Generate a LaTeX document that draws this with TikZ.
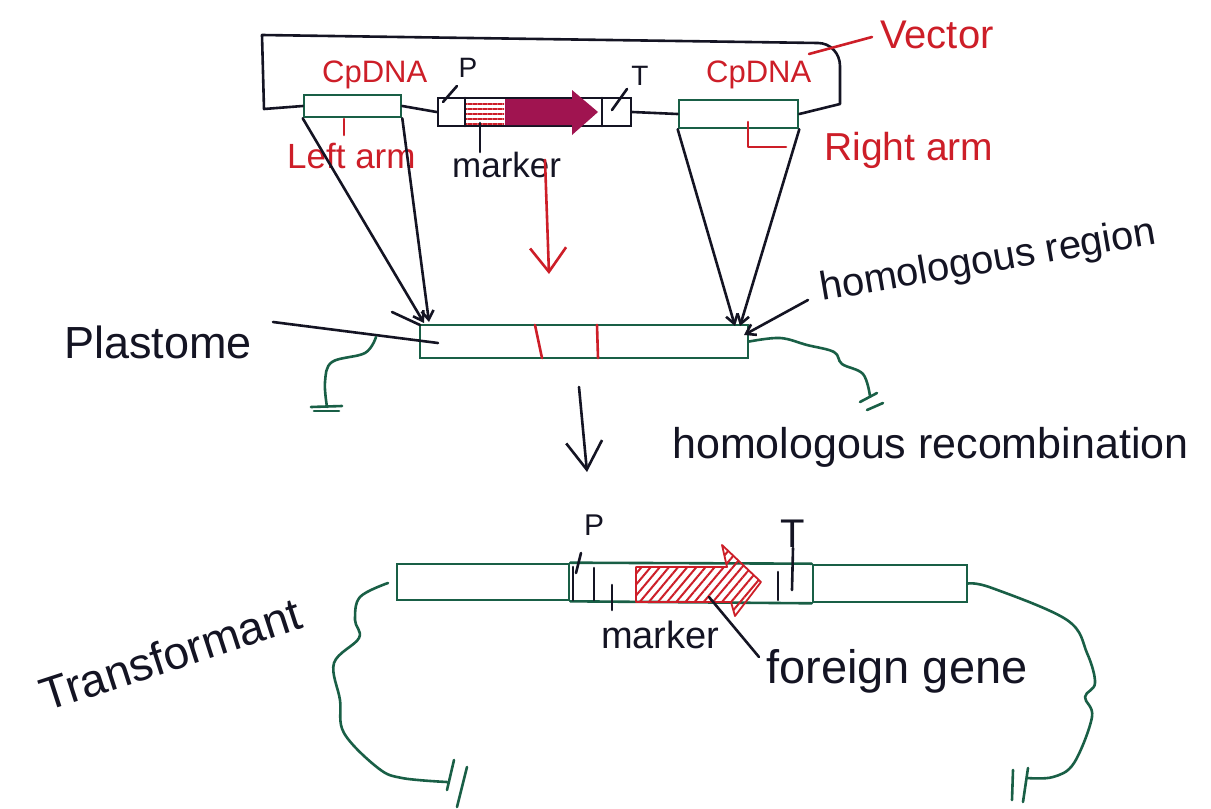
\documentclass[tikz,border=0pt]{standalone}
\usepackage{fontspec}
\setmainfont{Liberation Sans}
\usetikzlibrary{arrows.meta,patterns.meta}
\definecolor{ink}{RGB}{20,20,35}
\definecolor{dna}{RGB}{25,95,70}
\definecolor{redink}{RGB}{205,30,40}
\definecolor{mag}{RGB}{160,20,80}
\newcommand\fsz[1]{\fontsize{#1}{#1}\selectfont}
\begin{document}
\begin{tikzpicture}[x=1pt,y=-1pt,
  pen/.style={draw=ink,line width=2.6pt,line cap=round,line join=round},
  gpen/.style={draw=dna,line width=2.6pt,line cap=round,line join=round},
  rpen/.style={draw=redink,line width=2.6pt,line cap=round,line join=round},
  dnabox/.style={draw=dna,line width=2.6pt,fill=white,inner sep=0pt},
  barb/.style={-{Straight Barb[length=9pt,width=12pt]}},
  txt/.style={text=ink,inner sep=0pt},
  rtxt/.style={text=redink,inner sep=0pt}
]
\useasboundingbox (0,0) rectangle (1211,809);
\fill[white] (0,0) rectangle (1211,809);

% ---------------- vector ----------------
\node[dnabox,minimum width=97pt,minimum height=22pt] (larm) at (352.5,106) {};
\node[dnabox,minimum width=119pt,minimum height=28pt] (rarm) at (738.5,114) {};
\node[draw=ink,line width=2.6pt,inner sep=0pt,minimum width=193pt,minimum height=28pt] (cas) at (534.5,112) {};
\fill[pattern={Lines[angle=0,distance=5pt,line width=1.8pt]},pattern color=redink] (466,100) rectangle (504,124);
\fill[mag] (505,99) -- (572,99) -- (572,90) -- (598,112) -- (572,135) -- (572,125) -- (505,125) -- cycle;
\draw[pen] (465,98) -- (465,126);
\draw[pen] (602,98) -- (602,126);
\draw[pen] (larm.west) -- (264,109) -- (262,35) -- (818,43) to[out=0,in=90] (840,66) -- (840,104) -- (rarm.east);
\draw[pen] (larm.east) -- (cas.west);
\draw[pen] (cas.east) -- (rarm.west);

\node[rtxt,font=\fsz{31},anchor=base west] (cpl) at (322,82) {CpDNA};
\node[rtxt,font=\fsz{31},anchor=base west] (cpr) at (706,82) {CpDNA};
\node[txt,font=\fsz{28},anchor=base] (plab) at (468,77) {P};
\node[txt,font=\fsz{28},anchor=base] (tlab) at (640,85) {T};
\coordinate (pp1) at (443,102); \coordinate (pp2) at (457,86);
\draw[pen] (pp1) -- (pp2);
\coordinate (tp1) at (612,110); \coordinate (tp2) at (627,89);
\draw[pen] (tp1) -- (tp2);
\node[rtxt,font=\fsz{40},anchor=base west] (vec) at (880,48) {Vector};
\coordinate (vp1) at (809,54); \coordinate (vp2) at (872,37);
\draw[rpen] (vp1) -- (vp2);

\node[rtxt,font=\fsz{35},anchor=base west] (left) at (287,168) {Left arm};
\coordinate (lt1) at (344,119); \coordinate (lt2) at (344,135);
\draw[rpen] (lt1) -- (lt2);
\node[txt,font=\fsz{35},anchor=base west] (mk1) at (452,177) {marker};
\coordinate (mt1) at (480,123); \coordinate (mt2) at (480,152);
\draw[pen] (mt1) -- (mt2);
\node[rtxt,font=\fsz{39},anchor=base west] (right) at (824,160) {Right arm};
\coordinate (rb1) at (748,122); \coordinate (rb2) at (786,147);
\draw[rpen] (rb1) |- (rb2);

% ---------------- plastome ----------------
\node[dnabox,minimum width=328pt,minimum height=33pt] (plast) at (584,341.5) {};
\draw[rpen] (535,325) -- (542,358);
\draw[rpen] (597,325) -- (598,358);
\coordinate (pl1) at (424,323);
\coordinate (pl2) at (429,322);
\coordinate (pr1) at (735,326);
\coordinate (pr2) at (740,326);
\draw[pen,barb] (larm.south west) -- (pl1);
\draw[pen,barb] (larm.south east) -- (pl2);
\draw[pen,barb] (rarm.south west) -- (pr1);
\draw[pen,barb] (rarm.south east) -- (pr2);
\coordinate (ra1) at (545,160); \coordinate (ra2) at (549,274);
\draw[rpen,-{Straight Barb[length=24pt,width=36pt]}] (ra1) -- (ra2);

\node[txt,font=\fsz{45},anchor=base west] (plbl) at (64,358) {Plastome};
\coordinate (pt1) at (273,322); \coordinate (pt2) at (438,343);
\draw[pen] (pt1) -- (pt2);
\coordinate (ps1) at (392,312); \coordinate (ps2) at (420,325);
\draw[pen] (ps1) -- (ps2);

\node[txt,font=\fsz{40},anchor=base west,rotate=9.7] (hreg) at (822,301) {homologous region};
\coordinate (hr1) at (808,300); \coordinate (hr2) at (744,335);
\draw[pen,barb] (hr1) -- (hr2);

\coordinate (lw0) at (376,337);
\draw[gpen] plot[smooth,tension=0.6] coordinates {(lw0) (365,353) (332,362) (325,382) (327,407)};
\draw[gpen] (311,407) -- (342,406);
\draw[gpen] (314,411) -- (339,411);
\draw[gpen] plot[smooth,tension=0.6] coordinates {(plast.east) (780,338) (807,345) (834,352) (842,364) (863,374) (870,396)};
\draw[gpen] (860,402) -- (877,393);
\draw[gpen] (867,410) -- (883,403);

% ---------------- recombination ----------------
\coordinate (da1) at (579,387); \coordinate (da2) at (587,472);
\draw[pen,-{Straight Barb[length=28pt,width=36pt]}] (da1) -- (da2);
\node[txt,font=\fsz{43},anchor=base west] (hrec) at (672,458) {homologous recombination};

% ---------------- transformant ----------------
\node[dnabox,minimum width=172pt,minimum height=36pt] (tl) at (483,582) {};
\node[dnabox,minimum width=154pt,minimum height=37pt] (tr) at (890,583.5) {};
\draw[gpen] (tl.north east) -- (tr.north west);
\draw[gpen] (tl.south east) -- (tr.south west);
\draw[pen] (573,567) -- (573,600);
\draw[pen] (594,568) -- (594,600);
\draw[draw=redink,line width=1.8pt,line join=round,pattern={Lines[angle=50,distance=7pt,line width=2pt]},pattern color=redink]
  (636,567) -- (727,567) -- (722,545) -- (761,582) -- (735,616) -- (731,602) -- (636,602) -- cycle;
\draw[pen] (778,572) -- (778,600);

\node[txt,font=\fsz{30},anchor=base] (pb) at (594,535) {P};
\coordinate (pb1) at (581,553); \coordinate (pb2) at (576,573);
\draw[pen] (pb1) -- (pb2);
\node[txt,font=\fsz{40},anchor=north] (tb) at (793,520) {T};
\coordinate (tb2) at (792,590);
\draw[pen] (tb.south) -- (tb2);

\node[txt,font=\fsz{38},anchor=base west] (mk2) at (601,648) {marker};
\coordinate (mb1) at (612,585); \coordinate (mb2) at (612,610);
\draw[pen] (mb1) -- (mb2);
\node[txt,font=\fsz{47},anchor=base west] (fg) at (766,683) {foreign gene};
\coordinate (fg1) at (709,597); \coordinate (fg2) at (759,657);
\draw[pen] (fg1) -- (fg2);

\node[txt,font=\fsz{46},anchor=base west,rotate=18] (trf) at (46,712) {Transformant};

\coordinate (tw0) at (388,583);
\draw[gpen] plot[smooth,tension=0.6] coordinates {(tw0) (360,597) (355,620) (359,638) (334,663) (340,700) (344,733) (378,768) (402,778) (447,782)};
\draw[gpen] (454,760) -- (447,790);
\draw[gpen] (467,767) -- (457,807);
\draw[gpen] plot[smooth,tension=0.6] coordinates {(tr.east) (992,588) (1067,620) (1087,653) (1095,683) (1085,697) (1092,717) (1074,763) (1053,777) (1027,778)};
\draw[gpen] (1013,770) -- (1012,800);
\draw[gpen] (1028,768) -- (1023,802);
\end{tikzpicture}
\end{document}
